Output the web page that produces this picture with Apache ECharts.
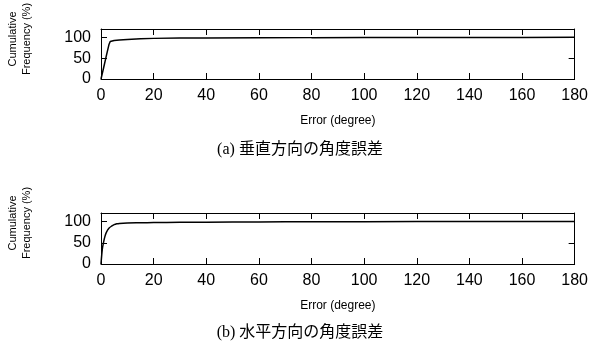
<!DOCTYPE html>
<html><head><meta charset="utf-8">
<script src="https://cdn.jsdelivr.net/npm/echarts@6/dist/echarts.min.js"></script>
<style>html,body{margin:0;padding:0;background:#fff}#c{width:591px;height:349px}</style>
</head><body><div id="c"></div>
<script>
// Vertical angle error (a)
const errVertical = [0, 1, 2, 3, 3.5, 4, 5, 7, 10, 15, 20, 30, 40, 60, 80, 100, 120, 140, 160, 180];
const cumVertical = [0, 27, 55, 82, 90, 92, 92.5, 93.5, 95, 96.5, 97.5, 98.2, 98.6, 99, 99.3, 99.5, 99.7, 99.8, 99.9, 100];
// Horizontal angle error (b)
const errHorizontal = [0, 0.5, 1, 1.5, 2, 3, 4, 5, 6, 7, 10, 15, 20, 30, 40, 60, 80, 100, 140, 180];
const cumHorizontal = [0, 35, 52, 65, 74, 84, 89, 92.5, 94.5, 95.5, 96.5, 97, 97.5, 98, 98.5, 99, 99.4, 99.6, 99.8, 100];
const xTicks = [0, 20, 40, 60, 80, 100, 120, 140, 160, 180];
const yTicks = [0, 50, 100];
const captions = ['(a) 垂直方向の角度誤差', '(b) 水平方向の角度誤差'];
const xTitle = 'Error (degree)';
const yTitle = 'Cumulative\nFrequency (%)';

const chart = echarts.init(document.getElementById('c'), null, {renderer: 'canvas'});
const SANS = 'Liberation Sans, Arial, sans-serif';
const grids = [
  {left: 101, top: 29, width: 474, height: 50},
  {left: 101, top: 213, width: 474, height: 51}
];
const line = {onZero: false, lineStyle: {color: '#000', width: 1}};
const tick = {show: true, inside: true, length: 6, lineStyle: {color: '#000'}};
const xAxes = [], yAxes = [];
grids.forEach((g, i) => {
  xAxes.push({
    type: 'value', gridIndex: i, min: 0, max: 180, interval: 20, position: 'bottom',
    axisLine: line, axisTick: tick,
    axisLabel: {color: '#000', fontSize: 16, fontFamily: SANS, margin: 9},
    splitLine: {show: false},
    name: xTitle, nameLocation: 'middle', nameGap: 36,
    nameTextStyle: {color: '#000', fontSize: 12, fontFamily: SANS}
  });
  xAxes.push({
    type: 'value', gridIndex: i, min: 0, max: 180, interval: 20, position: 'top',
    axisLine: line, axisTick: tick,
    axisLabel: {show: false}, splitLine: {show: false}
  });
  yAxes.push({
    type: 'value', gridIndex: i, min: 0, max: 120, interval: 50, position: 'left',
    axisLine: Object.assign({show: true}, line), axisTick: tick,
    axisLabel: {color: '#000', fontSize: 16, fontFamily: SANS, margin: 10, showMaxLabel: false},
    splitLine: {show: false}
  });
  yAxes.push({
    type: 'value', gridIndex: i, min: 0, max: 120, interval: 50, position: 'right',
    axisLine: Object.assign({show: true}, line), axisTick: tick,
    axisLabel: {show: false}, splitLine: {show: false}
  });
});

const mk = (xs, ys) => xs.map((x, k) => [x, ys[k]]);
const series = [
  {type: 'line', xAxisIndex: 0, yAxisIndex: 0, data: mk(errVertical, cumVertical),
   showSymbol: false, lineStyle: {color: '#000', width: 1.5}},
  {type: 'line', xAxisIndex: 2, yAxisIndex: 2, data: mk(errHorizontal, cumHorizontal),
   showSymbol: false, smooth: 0.3, lineStyle: {color: '#000', width: 1.5}}
];

const graphic = [];
[[20, 39], [20, 223]].forEach((p, i) => {
  graphic.push({type: 'text', x: p[0], y: p[1], rotation: Math.PI / 2,
    style: {text: yTitle, fill: '#000', font: '11px ' + SANS, align: 'center', verticalAlign: 'middle', lineHeight: 14}});
});
[[300, 150], [300, 333]].forEach((p, i) => {
  graphic.push({type: 'text', x: p[0], y: p[1],
    style: {text: captions[i], fill: '#000', font: '16px "Liberation Serif", "Noto Sans CJK JP", serif', align: 'center', verticalAlign: 'middle'}});
});

chart.setOption({
  animation: false,
  grid: grids.map(g => Object.assign({show: false}, g)),
  xAxis: xAxes, yAxis: yAxes, series, graphic
});
</script></body></html>
